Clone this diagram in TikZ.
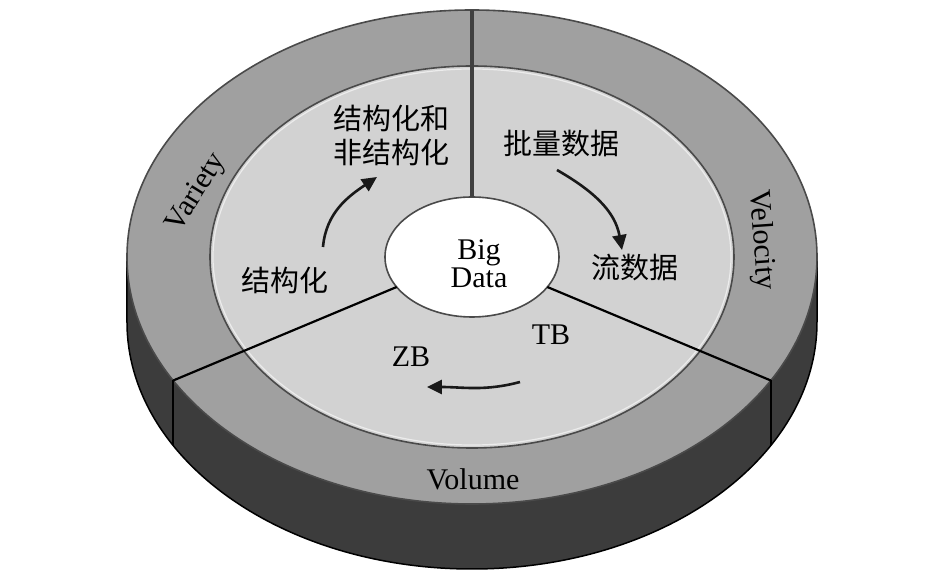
\documentclass[tikz,border=0pt]{standalone}
\usepackage{fontspec}
\setmainfont{Liberation Serif}
\newfontfamily\cjk{Noto Sans CJK SC}
\usetikzlibrary{arrows.meta}
\definecolor{ringdark}{HTML}{A0A0A0}
\definecolor{ringlight}{HTML}{D2D2D2}
\definecolor{sidecol}{HTML}{3C3C3C}
\definecolor{edgecol}{HTML}{4A4A4A}
\begin{document}
\begin{tikzpicture}[x=1pt,y=1pt,
  lbl/.style={font=\fontsize{30}{28}\selectfont, inner sep=0pt},
  cjklbl/.style={font=\cjk\fontsize{29}{34}\selectfont, inner sep=0pt, align=center},
  flow/.style={line width=2.6pt, draw=black!90, -{Triangle[length=15pt,width=14pt]}},
  ring/.style={draw=edgecol, line width=1.6pt},
  divider/.style={draw=black, line width=2.2pt}]
\useasboundingbox (-472,-326) rectangle (474,257);
% side of the disc
\fill[sidecol] (180:345 and 247) arc[start angle=180,end angle=360,x radius=345,y radius=247]
  -- ++(0,-65) arc[start angle=360,end angle=180,x radius=345,y radius=247] -- cycle;
\draw[black, line width=1.5pt] (180:345 and 247) -- ++(0,-65)
  arc[start angle=180,end angle=360,x radius=345,y radius=247] -- ++(0,65);
% top face
\fill[ringdark] (0,0) ellipse[x radius=345,y radius=247];
\fill[ringlight] (0,0) ellipse[x radius=262,y radius=191];
\fill[white] (0,0) ellipse[x radius=87,y radius=60];
\draw[ring] (0,0) ellipse[x radius=345,y radius=247];
\draw[draw=white!85!gray, line width=1.2pt] (0,0) ellipse[x radius=259,y radius=188];
\draw[ring] (0,0) ellipse[x radius=262,y radius=191];
\draw[ring] (0,0) ellipse[x radius=87,y radius=60];
% dividers
\draw[line width=4.5pt, draw=black!75] (90:87 and 60) -- (90:345 and 247);
\draw[divider] (210:87 and 60) -- (210:345 and 247);
\draw[divider] (330:87 and 60) -- (330:345 and 247);
\draw[divider] (210:345 and 247) -- ++(0,-65);
\draw[divider] (330:345 and 247) -- ++(0,-65);
% labels
\node[lbl, anchor=base] (big) at (7,-3) {Big};
\node[lbl, anchor=base] (data) at (7,-31) {Data};
\node[lbl, anchor=base] (vol) at (1,-233) {Volume};
\node[lbl, rotate=58] (var) at (-275,64) {Variety};
\node[lbl, rotate=-86] (vel) at (289,17) {Velocity};
\node[lbl, anchor=base] (tb) at (79,-88) {TB};
\node[lbl, anchor=base] (zb) at (-61,-110) {ZB};
\node[cjklbl] (s1) at (-80,122) {结构化和\\非结构化};
\node[cjklbl] (b1) at (90,113) {批量数据};
\node[cjklbl] (l1) at (163,-11) {流数据};
\node[cjklbl] (s0) at (-187,-23) {结构化};
% arrows
\coordinate (a1s) at (-149,10); \coordinate (a1e) at (-95,80);
\draw[flow] (a1s) to[out=85,in=214] (a1e);
\coordinate (a2s) at (85,87); \coordinate (a2e) at (150,7);
\draw[flow] (a2s) to[out=-30,in=100] (a2e);
\coordinate (a3s) at (48,-125); \coordinate (a3e) at (-45,-130);
\draw[flow] (a3s) to[out=195,in=0] (a3e);
\end{tikzpicture}
\end{document}
